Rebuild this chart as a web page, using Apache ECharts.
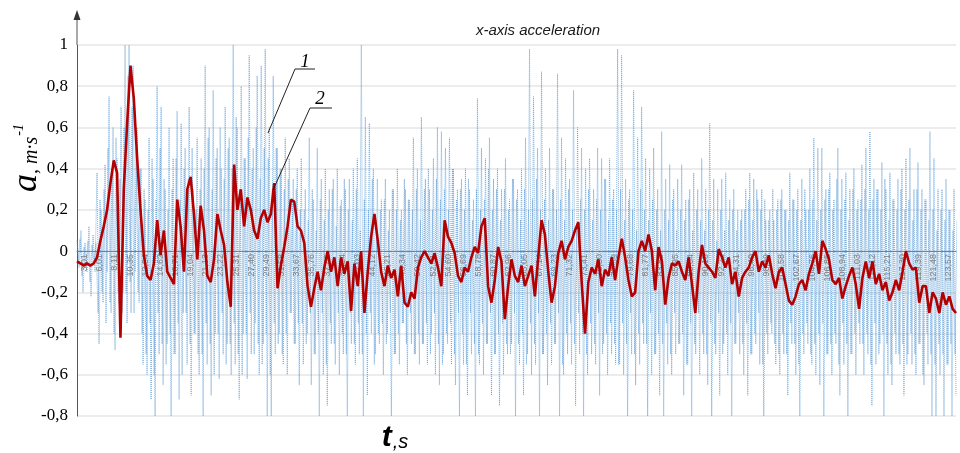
<!DOCTYPE html>
<html>
<head>
<meta charset="utf-8">
<title>x-axis acceleration</title>
<script src="https://cdn.jsdelivr.net/npm/echarts@6/dist/echarts.min.js"></script>
<style>
  html, body { margin: 0; padding: 0; background: #fff; }
  #chart { width: 960px; height: 453px; }
</style>
</head>
<body>
<div id="chart"></div>
<script>
// time labels printed along the zero line
const timeLabels = ['3,01', '6,01', '8,11', '10,35', '12,54', '14,62', '16,71', '19,04', '21,13', '23,22',
  '25,31', '27,40', '29,49', '31,58', '33,67', '35,76', '37,85', '39,94', '42,03', '44,12',
  '46,21', '48,34', '50,42', '52,51', '54,60', '56,69', '58,78', '60,87', '62,96', '65,05',
  '67,14', '69,23', '71,32', '73,41', '75,50', '77,59', '79,68', '81,77', '83,86', '85,95',
  '88,04', '90,13', '92,22', '94,31', '96,40', '98,49', '100,58', '102,67', '104,76', '106,85',
  '108,94', '111,03', '113,12', '115,21', '117,30', '119,39', '121,48', '123,57']

const yTicks = { min: -0.8, max: 1, step: 0.2 }

// curve 1: raw signal, outer peaks read as alternating high/low samples
const rawSignal = [
  0.05, -0.08, 0.1, -0.2, 0.04, -0.1, 0.12, -0.22, 0.08, -0.1,
  0.38, -0.45, 0.2, -0.25, 0.42, -0.1, 0.75, -0.3, 0.6, -0.48, 0.45, -0.25, 0.7, -0.2,
  1.0, -0.35, 1.0, -0.3, 0.9, -0.1, 0.6, -0.25,
  0.4, -0.55, 0.25, -0.6, 0.55, -0.72, 0.35, -0.8, 0.8, -0.5, 0.7, -0.65, 0.3, -0.45, 0.6, -0.8,
  0.45, -0.5, 0.68, -0.72, 0.62, -0.3, 0.5, -0.55, 0.7, -0.7, 0.3, -0.4, 0.55, -0.6,
  0.45, -0.8, 0.9, -0.55, 0.6, -0.7, 0.78, -0.4, 0.5, -0.62, 0.4, -0.5, 0.7, -0.45, 0.55, -0.6,
  1.0, -0.55, 0.6, -0.72, 0.8, -0.4, 0.45, -0.62, 0.95, -0.5, 0.5, -0.35, 0.85, -0.6, 0.9, -0.45,
  0.98, -0.8, 0.6, -0.8, 0.85, -0.5, 0.5, -0.4, 0.4, -0.55, 0.55, -0.6, 0.45, -0.3, 0.35, -0.45, 0.4, -0.65,
  0.45, -0.55, 0.3, -0.4, 0.55, -0.65, 0.25, -0.5, 0.5, -0.8, 0.35, -0.6, 0.4, -0.75, 0.3, -0.45, 0.35, -0.55, 0.4, -0.6,
  0.25, -0.5, 0.3, -0.8, 0.35, -0.45, 0.4, -0.55, 0.45, -0.5, 1.0, -0.8, 0.65, -0.7, 0.62, -0.4, 0.4, -0.5, 0.35, -0.45,
  0.25, -0.6, 0.35, -0.4, 0.2, -0.8, 0.3, -0.5, 0.4, -0.55, 0.2, -0.35, 0.3, -0.6, 0.25, -0.45, 0.55, -0.5, 0.4, -0.55,
  0.65, -0.45, 0.35, -0.55, 0.3, -0.4, 0.45, -0.6, 0.6, -0.65, 0.58, -0.5, 0.5, -0.45, 0.55, -0.55, 0.4, -0.65, 0.3, -0.8,
  0.35, -0.55, 0.4, -0.7, 0.3, -0.5, 0.25, -0.8, 0.74, -0.55, 0.5, -0.6, 0.45, -0.45, 0.55, -0.7, 0.35, -0.5, 0.4, -0.75,
  0.3, -0.6, 0.45, -0.5, 0.25, -0.45, 0.35, -0.8, 0.3, -0.55, 0.4, -0.7, 0.55, -0.5, 0.98, -0.6, 0.75, -0.55, 0.5, -0.8,
  0.87, -0.5, 0.4, -0.65, 0.5, -0.55, 0.3, -0.45, 0.86, -0.8, 0.55, -0.6, 0.45, -0.5, 0.35, -0.55, 0.78, -0.75, 0.6, -0.5,
  0.5, -0.8, 0.4, -0.6, 0.45, -0.5, 0.3, -0.55, 0.5, -0.7, 0.45, -0.45, 0.35, -0.6, 0.45, -0.5, 0.3, -0.55, 0.98, -0.55,
  0.95, -0.6, 0.35, -0.8, 0.3, -0.5, 0.78, -0.65, 0.55, -0.55, 0.7, -0.45, 0.45, -0.8, 0.4, -0.6, 0.5, -0.5, 0.3, -0.7,
  0.58, -0.8, 0.35, -0.55, 0.42, -0.6, 0.3, -0.5, 0.35, -0.45, 0.42, -0.7, 0.25, -0.55, 0.3, -0.8, 0.38, -0.5, 0.3, -0.6,
  0.45, -0.5, 0.3, -0.65, 0.62, -0.8, 0.35, -0.5, 0.3, -0.7, 0.35, -0.45, 0.38, -0.6, 0.25, -0.8, 0.3, -0.45, 0.2, -0.5,
  0.2, -0.6, 0.3, -0.7, 0.38, -0.5, 0.35, -0.45, 0.25, -0.55, 0.3, -0.8, 0.15, -0.5, 0.2, -0.4, 0.15, -0.55, 0.25, -0.6,
  0.3, -0.5, 0.2, -0.7, 0.38, -0.45, 0.25, -0.6, 0.3, -0.8, 0.35, -0.5, 0.2, -0.45, 0.4, -0.55, 0.55, -0.6, 0.5, -0.65,
  0.5, -0.8, 0.3, -0.5, 0.38, -0.6, 0.25, -0.45, 0.5, -0.7, 0.35, -0.55, 0.38, -0.8, 0.3, -0.5, 0.4, -0.6, 0.25, -0.45,
  0.42, -0.6, 0.5, -0.5, 0.58, -0.75, 0.35, -0.55, 0.3, -0.45, 0.43, -0.8, 0.3, -0.6, 0.38, -0.65, 0.25, -0.5, 0.35, -0.55,
  0.4, -0.7, 0.45, -0.5, 0.5, -0.55, 0.3, -0.6, 0.43, -0.45, 0.3, -0.65, 0.25, -0.55, 0.58, -0.8, 0.45, -0.8, 0.3, -0.6,
  0.3, -0.8, 0.35, -0.55, 0.2, -0.8, 0.3, -0.7
]

// curve 1: in-between samples of the same signal (inner band)
const rawSignalInner = [
  -0.05, 0.06, -0.12, 0.02, -0.08, 0.05, -0.15, 0.03, -0.06, 0.04,
  -0.3, 0.25, -0.2, 0.3, -0.35, 0.5, -0.25, 0.4, -0.4, 0.55, -0.2, 0.35, -0.3, 0.6,
  -0.2, 0.85, -0.15, 0.7, -0.3, 0.5, -0.2, 0.4,
  -0.4, 0.3, -0.5, 0.2, -0.35, 0.45, -0.6, 0.25, -0.3, 0.5, -0.45, 0.35, -0.55, 0.2, -0.4, 0.3,
  -0.5, 0.45, -0.35, 0.25, -0.6, 0.4, -0.3, 0.35, -0.45, 0.5, -0.4, 0.2, -0.5, 0.3,
  -0.5, 0.4, -0.35, 0.55, -0.45, 0.3, -0.6, 0.45, -0.4, 0.6, -0.3, 0.35, -0.55, 0.5, -0.45, 0.4,
  -0.35, 0.65, -0.5, 0.3, -0.6, 0.45, -0.4, 0.55, -0.3, 0.4, -0.5, 0.6, -0.45, 0.35, -0.55, 0.5,
  -0.4, 0.45, -0.6, 0.3, -0.35, 0.5, -0.45, 0.4, -0.5, 0.3, -0.4, 0.35, -0.3, 0.25, -0.45, 0.3, -0.35, 0.2,
  -0.35, 0.2, -0.45, 0.15, -0.3, 0.3, -0.5, 0.1, -0.4, 0.25, -0.3, 0.15, -0.55, 0.2, -0.35, 0.3, -0.45, 0.12, -0.3, 0.22,
  -0.4, 0.35, -0.5, 0.2, -0.3, 0.15, -0.45, 0.3, -0.35, 0.1, -0.5, 0.25, -0.4, 0.2, -0.3, 0.35, -0.55, 0.15, -0.4, 0.2,
  -0.35, 0.25, -0.45, 0.1, -0.3, 0.3, -0.5, 0.2, -0.4, 0.15, -0.35, 0.35, -0.45, 0.25, -0.3, 0.2, -0.5, 0.3, -0.4, 0.15,
  -0.45, 0.3, -0.35, 0.4, -0.5, 0.2, -0.3, 0.35, -0.45, 0.25, -0.55, 0.3, -0.4, 0.2, -0.35, 0.4, -0.5, 0.25, -0.3, 0.3,
  -0.4, 0.2, -0.55, 0.35, -0.3, 0.15, -0.45, 0.3, -0.5, 0.2, -0.35, 0.25, -0.45, 0.4, -0.3, 0.2, -0.5, 0.3, -0.4, 0.15,
  -0.35, 0.3, -0.45, 0.2, -0.5, 0.35, -0.3, 0.25, -0.45, 0.15, -0.4, 0.3, -0.55, 0.2, -0.35, 0.25, -0.45, 0.35, -0.3, 0.2,
  -0.5, 0.25, -0.4, 0.15, -0.35, 0.3, -0.45, 0.2, -0.3, 0.25, -0.55, 0.15, -0.4, 0.3, -0.35, 0.2, -0.45, 0.1, -0.3, 0.25,
  -0.4, 0.2, -0.5, 0.3, -0.35, 0.15, -0.45, 0.25, -0.3, 0.2, -0.5, 0.35, -0.4, 0.15, -0.35, 0.25, -0.45, 0.2, -0.55, 0.3,
  -0.35, 0.15, -0.45, 0.25, -0.3, 0.2, -0.5, 0.1, -0.4, 0.3, -0.35, 0.2, -0.45, 0.15, -0.3, 0.25, -0.5, 0.2, -0.4, 0.1,
  -0.45, 0.2, -0.35, 0.15, -0.5, 0.25, -0.3, 0.1, -0.45, 0.2, -0.4, 0.15, -0.55, 0.25, -0.35, 0.1, -0.45, 0.2, -0.3, 0.15,
  -0.4, 0.1, -0.5, 0.2, -0.35, 0.15, -0.45, 0.05, -0.3, 0.2, -0.5, 0.1, -0.4, 0.15, -0.35, 0.2, -0.45, 0.1, -0.3, 0.15,
  -0.45, 0.2, -0.35, 0.25, -0.5, 0.15, -0.4, 0.3, -0.3, 0.2, -0.55, 0.25, -0.4, 0.15, -0.35, 0.3, -0.45, 0.2, -0.5, 0.25,
  -0.4, 0.2, -0.5, 0.15, -0.35, 0.25, -0.45, 0.2, -0.55, 0.15, -0.4, 0.3, -0.35, 0.2, -0.5, 0.25, -0.45, 0.15, -0.4, 0.2,
  -0.35, 0.25, -0.5, 0.3, -0.45, 0.2, -0.4, 0.35, -0.55, 0.2, -0.35, 0.25, -0.45, 0.15, -0.5, 0.3, -0.4, 0.2, -0.35, 0.25,
  -0.45, 0.3, -0.4, 0.2, -0.55, 0.25, -0.35, 0.3, -0.5, 0.2, -0.4, 0.35, -0.45, 0.15, -0.55, 0.25, -0.4, 0.2, -0.5, 0.3,
  -0.45, 0.2, -0.55, 0.25, -0.4, 0.15, -0.5, 0.3, -0.45, 0.2, -0.6, 0.25, -0.4, 0.15, -0.5, 0.2, -0.55, 0.1, -0.45, 0.2,
  -0.5, 0.15, -0.55, 0.2, -0.45, 0.1, -0.5, 0.15
]

// curve 2: smoothed signal
const smoothSignal = [
  -0.05, -0.06, -0.07, -0.06, -0.07, -0.06, -0.03, 0.05, 0.12, 0.2,
  0.33, 0.44, 0.38, -0.42, 0.3, 0.62, 0.9, 0.74, 0.45, 0.2,
  -0.02, -0.12, -0.14, -0.06, 0.15, -0.02, 0.1, -0.1, -0.13, -0.16,
  0.25, 0.12, -0.1, 0.3, 0.36, 0.18, -0.04, 0.22, 0.1, -0.12,
  -0.15, -0.04, 0.18, 0.1, 0.03, -0.15, -0.27, 0.42, 0.2, 0.3,
  0.12, 0.26, 0.2, 0.1, 0.06, 0.16, 0.2, 0.14, 0.18, 0.33,
  -0.18, -0.07, 0.02, 0.12, 0.25, 0.24, 0.12, 0.1, 0.04, -0.17,
  -0.27, -0.18, -0.1, -0.19, -0.08, 0.0, -0.1, -0.03, -0.17, -0.03,
  -0.11, -0.05, -0.29, -0.06, -0.17, 0.0, -0.3, -0.1, 0.07, 0.18,
  0.05, -0.1, -0.17, -0.07, -0.13, -0.09, -0.22, -0.07, -0.25, -0.27,
  -0.2, -0.23, -0.08, -0.03, 0.0, -0.03, -0.06, -0.01, -0.08, -0.17,
  0.15, 0.07, 0.04, -0.01, -0.12, -0.15, -0.08, -0.1, -0.03, 0.02,
  -0.01, 0.12, 0.16, -0.17, -0.25, -0.14, 0.02, -0.05, -0.33, -0.17,
  -0.04, -0.12, -0.15, -0.07, -0.17, -0.12, -0.07, -0.22, -0.03, 0.15,
  0.08, -0.1, -0.25, -0.17, -0.01, 0.05, -0.04, 0.02, 0.05, 0.1,
  0.14, -0.15, -0.4, -0.15, -0.08, -0.11, -0.04, -0.17, -0.09, -0.12,
  -0.03, -0.14, -0.03, 0.06, -0.03, -0.14, -0.22, -0.2, 0.0, 0.05,
  0.0, 0.08, 0.0, -0.19, 0.02, -0.05, -0.26, -0.13, -0.06, -0.07,
  -0.05, -0.1, -0.14, -0.03, -0.16, -0.3, -0.1, 0.03, -0.06, -0.08,
  -0.1, -0.13, 0.01, -0.03, -0.08, -0.03, -0.16, -0.1, -0.22, -0.13,
  -0.1, -0.08, -0.03, 0.0, -0.1, -0.05, -0.08, -0.02, -0.11, -0.18,
  -0.1, -0.08, -0.16, -0.24, -0.26, -0.22, -0.16, -0.14, -0.19, -0.11,
  -0.06, 0.0, -0.11, 0.05, 0.01, -0.04, -0.14, -0.16, -0.13, -0.23,
  -0.17, -0.12, -0.08, -0.16, -0.28, -0.13, -0.05, -0.13, -0.05, -0.16,
  -0.11, -0.19, -0.15, -0.24, -0.2, -0.14, -0.19, -0.1, 0.0, -0.06,
  -0.09, -0.08, -0.25, -0.17, -0.17, -0.3, -0.2, -0.23, -0.3, -0.2,
  -0.26, -0.22, -0.28, -0.3
]

const chart = echarts.init(document.getElementById('chart'))

const blueLine = { color: '#5b9bd5', width: 1, type: 'dotted', opacity: 0.75 }

const option = {
  animation: false,
  backgroundColor: '#ffffff',
  grid: { left: 77, right: 4, top: 45, bottom: 37 },
  title: {
    text: 'x-axis acceleration',
    left: 533,
    top: 18,
    textAlign: 'center',
    textStyle: { fontFamily: 'Liberation Sans', fontStyle: 'italic', fontWeight: 'normal', fontSize: 15, color: '#1a1a1a' }
  },
  xAxis: [
    {
      // printed time labels, moved up from the bottom edge to the zero line
      type: 'category',
      data: timeLabels,
      boundaryGap: true,
      position: 'bottom',
      offset: -165,
      axisLine: { onZero: false, lineStyle: { color: '#7f7f7f', width: 1 } },
      axisTick: { show: false },
      splitLine: { show: false },
      axisLabel: { rotate: 90, interval: 0, fontSize: 9, color: '#808080', margin: 3, fontFamily: 'Liberation Sans' },
      z: 4
    },
    { type: 'value', show: false, min: 0, max: rawSignal.length - 1 },
    { type: 'value', show: false, min: 0, max: smoothSignal.length - 1 }
  ],
  yAxis: {
    type: 'value',
    min: yTicks.min,
    max: yTicks.max,
    interval: yTicks.step,
    axisLine: { show: true, onZero: false, lineStyle: { color: '#555', width: 1 } },
    axisTick: { show: false },
    splitLine: { show: true, lineStyle: { color: '#e6e6e6', width: 1.5 } },
    axisLabel: {
      fontFamily: 'Liberation Serif',
      fontSize: 17,
      color: '#000',
      margin: 9,
      formatter: function (v) {
        return String(Math.round(v * 10) / 10).replace('.', ',')
      }
    }
  },
  series: [
    {
      name: '1',
      type: 'line',
      xAxisIndex: 1,
      data: rawSignal.map((v, i) => [i, v]),
      symbol: 'none',
      silent: true,
      lineStyle: blueLine,
      z: 2
    },
    {
      name: '1b',
      type: 'line',
      xAxisIndex: 1,
      data: rawSignalInner.map((v, i) => [i + 0.5, v]),
      symbol: 'none',
      silent: true,
      lineStyle: blueLine,
      z: 2
    },
    {
      name: '2',
      type: 'line',
      xAxisIndex: 2,
      data: smoothSignal.map((v, i) => [i, v]),
      symbol: 'none',
      silent: true,
      lineStyle: { color: '#b40000', width: 2.6 },
      z: 6
    }
  ],
  graphic: [
    // y axis extension with arrow head
    { type: 'line', shape: { x1: 77, y1: 45, x2: 77, y2: 16 }, style: { stroke: '#555', lineWidth: 1 } },
    { type: 'polygon', shape: { points: [[73.5, 20], [77, 10], [80.5, 20]] }, style: { fill: '#333' } },
    // y axis name
    {
      type: 'text',
      x: 27,
      y: 158,
      rotation: Math.PI / 2,
      style: {
        text: '{a|a}{b|, m·s}{c|-1}',
        align: 'center',
        verticalAlign: 'middle',
        rich: {
          a: { fontFamily: 'Liberation Serif', fontStyle: 'italic', fontSize: 36, fill: '#000' },
          b: { fontFamily: 'Liberation Serif', fontStyle: 'italic', fontSize: 20, fill: '#000', padding: [10, 0, 0, 0] },
          c: { fontFamily: 'Liberation Serif', fontStyle: 'italic', fontSize: 14, fill: '#000', padding: [0, 0, 16, 1] }
        }
      }
    },
    // x axis name
    {
      type: 'text',
      x: 395,
      y: 438,
      style: {
        text: '{t|t}{s|,s}',
        align: 'center',
        verticalAlign: 'middle',
        rich: {
          t: { fontFamily: 'Liberation Sans', fontStyle: 'italic', fontWeight: 'bold', fontSize: 30, fill: '#000' },
          s: { fontFamily: 'Liberation Sans', fontStyle: 'italic', fontSize: 20, fill: '#000', padding: [8, 0, 0, 1] }
        }
      }
    },
    // curve markers
    { type: 'polyline', shape: { points: [[268, 133], [295, 69], [315, 69]] }, style: { stroke: '#222', lineWidth: 1, fill: null }, z: 10 },
    { type: 'text', x: 305, y: 62, style: { text: '1', fontFamily: 'Liberation Serif', fontStyle: 'italic', fontSize: 19, fill: '#000', align: 'center', verticalAlign: 'middle' }, z: 10 },
    { type: 'polyline', shape: { points: [[273, 190], [310, 108], [332, 108]] }, style: { stroke: '#222', lineWidth: 1, fill: null }, z: 10 },
    { type: 'text', x: 320, y: 99, style: { text: '2', fontFamily: 'Liberation Serif', fontStyle: 'italic', fontSize: 19, fill: '#000', align: 'center', verticalAlign: 'middle' }, z: 10 }
  ]
}

chart.setOption(option)
</script>
</body>
</html>
